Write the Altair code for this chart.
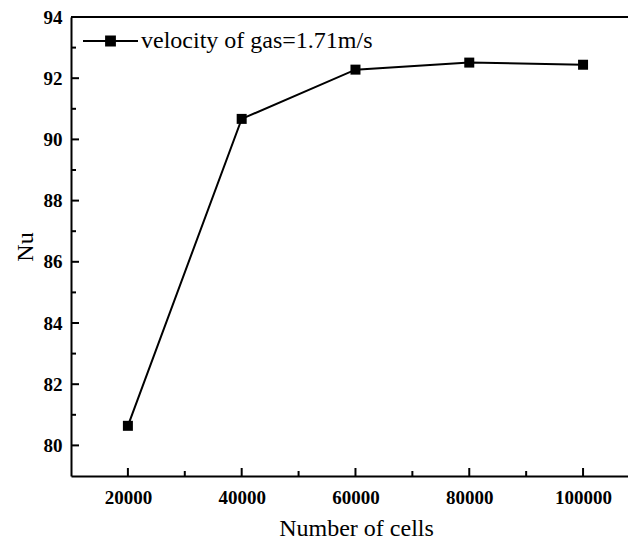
import altair as alt
import pandas as pd

# ---- data ----
cells = [20000, 40000, 60000, 80000, 100000]
nu = [80.64, 90.67, 92.28, 92.51, 92.44]
series_name = "velocity of gas=1.71m/s"

x_major = [20000, 40000, 60000, 80000, 100000]
x_minor = [30000, 50000, 70000, 90000]
y_major = [80, 82, 84, 86, 88, 90, 92]
y_minor = [81, 83, 85, 87, 89, 91, 93]

W, H = 557, 459
FONT = "Liberation Serif, Times New Roman, serif"

df = pd.DataFrame({"cells": cells, "nu": nu, "series": [series_name] * len(cells)})

xscale = alt.Scale(domain=[10000, 107900], nice=False, zero=False)
yscale = alt.Scale(domain=[79, 94], nice=False, zero=False)

x_axis = alt.Axis(
    values=x_major, format="d", ticks=False, grid=False,
    labelPadding=12, labelFontSize=19, labelFontWeight="bold", labelFont=FONT,
    labelColor="black", domainColor="black", domainWidth=2,
    title="Number of cells", titleFont=FONT, titleFontSize=24,
    titleFontWeight="normal", titleColor="black",
    titleX=285, titleY=59, titleBaseline="alphabetic", titleAlign="center",
)
y_axis = alt.Axis(
    values=y_major + [94], ticks=False, grid=False,
    labelPadding=9, labelFontSize=19, labelFontWeight="bold", labelFont=FONT,
    labelColor="black", domainColor="black", domainWidth=2,
    title="Nu", titleFont=FONT, titleFontSize=24, titleFontWeight="normal",
    titleColor="black", titleX=-39, titleY=H / 2, titleAngle=270,
    titleBaseline="alphabetic", titleAlign="center",
)

base = alt.Chart(df)

line = base.mark_line(color="black", strokeWidth=2).encode(
    x=alt.X("cells:Q", scale=xscale, axis=x_axis),
    y=alt.Y("nu:Q", scale=yscale, axis=y_axis),
)

legend_path = "M-1,0H1M-0.16,-0.16H0.16V0.16H-0.16Z"
points = base.mark_point(shape="square", filled=True, size=100, opacity=1).encode(
    x=alt.X("cells:Q", scale=xscale),
    y=alt.Y("nu:Q", scale=yscale),
    color=alt.Color(
        "series:N",
        scale=alt.Scale(range=["black"]),
        legend=alt.Legend(
            title=None, orient="none", legendX=11, legendY=-4.5, padding=0,
            symbolType=legend_path, symbolSize=3025, symbolStrokeWidth=2,
            symbolStrokeColor="black", symbolFillColor="black",
            labelFont=FONT, labelFontSize=24, labelColor="black", labelOffset=2,
            labelLimit=0,
        ),
    ),
)

yt_major = alt.Chart(pd.DataFrame({"nu": y_major})).mark_tick(
    orient="horizontal", size=8, thickness=2, color="black", opacity=1
).encode(y=alt.Y("nu:Q", scale=yscale), x=alt.value(4))
yt_minor = alt.Chart(pd.DataFrame({"nu": y_minor})).mark_tick(
    orient="horizontal", size=5, thickness=2, color="black", opacity=1
).encode(y=alt.Y("nu:Q", scale=yscale), x=alt.value(2.5))
xt_major = alt.Chart(pd.DataFrame({"cells": x_major})).mark_tick(
    orient="vertical", size=8, thickness=2, color="black", opacity=1
).encode(x=alt.X("cells:Q", scale=xscale), y=alt.value(H - 4))
xt_minor = alt.Chart(pd.DataFrame({"cells": x_minor})).mark_tick(
    orient="vertical", size=5, thickness=2, color="black", opacity=1
).encode(x=alt.X("cells:Q", scale=xscale), y=alt.value(H - 2.5))

top_border = alt.Chart(pd.DataFrame({"a": [0]})).mark_rule(
    color="black", strokeWidth=2
).encode(x=alt.value(0), x2=alt.value(W), y=alt.value(0))

chart = alt.layer(
    line, points, yt_major, yt_minor, xt_major, xt_minor, top_border
).properties(
    width=W, height=H,
    padding={"left": 71, "top": 17, "right": 0, "bottom": 63},
    autosize=alt.AutoSizeParams(type="none"),
    background="white",
).configure_view(stroke=None)

chart.save("out.html", embed_options={"renderer": "svg", "actions": False})
